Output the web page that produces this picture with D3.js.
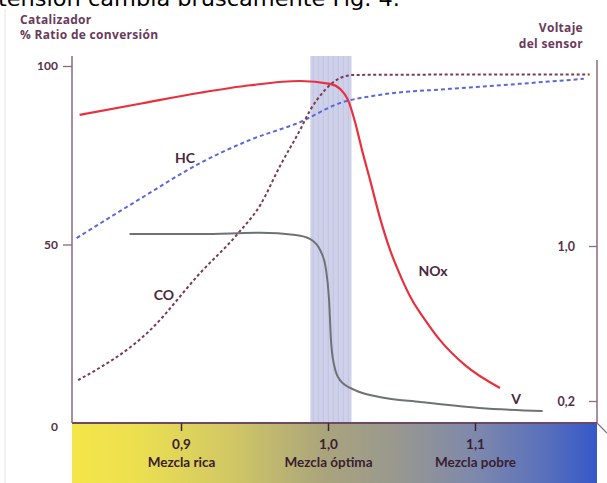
<!DOCTYPE html>
<html><head><meta charset="utf-8">
<script src="https://cdn.jsdelivr.net/npm/d3@7"></script>
<style>html,body{margin:0;padding:0;background:#fff;overflow:hidden}</style>
</head><body>
<script>
// ---- data ----
const xTicks = [0.9, 1.0, 1.1];
const xTickLabels = ["0,9", "1,0", "1,1"];
const xTickNames = ["Mezcla rica", "Mezcla óptima", "Mezcla pobre"];
const leftTicks = [0, 50, 100];
const rightTicks = [0.2, 1.0];
const rightTickLabels = ["0,2", "1,0"];
const band = [0.988, 1.016];

const noxX = [0.831, 0.873, 0.913, 0.947, 0.981, 1.0014, 1.0082, 1.0136, 1.0184, 1.0231, 1.0286, 1.0354, 1.0422, 1.049, 1.0571, 1.066, 1.0762, 1.0932, 1.117];
const noxY = [86.3, 89.5, 92.5, 94.6, 95.8, 95.0, 93.6, 90.5, 84.3, 76.5, 68.1, 57.4, 48.5, 41.5, 34.5, 28.9, 23.2, 16.2, 9.8];

const hcX = [0.829, 0.871, 0.913, 0.947, 0.981, 1.008, 1.035, 1.083, 1.130, 1.174];
const hcY = [51.8, 62.5, 72.8, 79.3, 84.3, 89.6, 91.9, 93.6, 95.0, 96.4];

const coX = [0.830, 0.879, 0.913, 0.939, 0.954, 0.967, 0.981, 0.988, 0.998, 1.008, 1.018, 1.100, 1.178];
const coY = [12.0, 26.0, 42.0, 53.2, 61.1, 71.7, 82.1, 87.7, 93.3, 96.6, 97.5, 97.6, 97.6];

const vX = [0.865, 0.913, 0.954, 0.978, 0.988, 0.995, 0.9986, 1.0007, 1.002, 1.0041, 1.008, 1.018, 1.035, 1.063, 1.103, 1.146];
const vY = [1.062, 1.062, 1.068, 1.057, 1.036, 0.974, 0.881, 0.725, 0.517, 0.387, 0.309, 0.257, 0.221, 0.195, 0.164, 0.148];

// ---- setup ----
const W = 607, H = 483;
const svg = d3.select("body").append("svg").attr("width", W).attr("height", H)
  .style("font-family", "Lato, 'Open Sans', sans-serif");

const x = d3.scaleLinear().domain([0.9, 1.1]).range([181, 475]);
const yL = d3.scaleLinear().domain([0, 100]).range([423, 66]);
const yR = d3.scaleLinear().domain([0.2, 1.0]).range([401, 246]);
const X0 = 72, X1 = 597, YB = 423, YT = 56;

const textCol = "#55304a";
const axisCol = "#8a6a82";
const FONT = "Lato, sans-serif";

// cut-off header text
svg.append("text").attr("x", -2).attr("y", 6).attr("font-family", "'DejaVu Sans', sans-serif")
  .attr("font-size", 21).attr("fill", "#000").attr("textLength", 402).attr("lengthAdjust", "spacingAndGlyphs")
  .text("tensión cambia bruscamente Fig. 4.");
svg.append("line").attr("x1", 5).attr("x2", 5).attr("y1", 9).attr("y2", H).attr("stroke", "#e4e4e4").attr("stroke-width", 1);

// gradient
const defs = svg.append("defs");
const g = defs.append("linearGradient").attr("id", "grad").attr("x1", "0%").attr("x2", "100%");
[[0, "#f4e648"], [0.12, "#ece050"], [0.3, "#d2c864"], [0.48, "#aaa47c"], [0.62, "#989890"], [0.77, "#7d88ac"], [0.9, "#5a70bc"], [1, "#3458c8"]]
  .forEach(([o, c]) => g.append("stop").attr("offset", o).attr("stop-color", c));
svg.append("rect").attr("x", X0).attr("y", YB).attr("width", X1 - X0).attr("height", H - YB).attr("fill", "url(#grad)");

// shaded band with stripes
const bx0 = x(band[0]), bx1 = x(band[1]);
svg.append("rect").attr("x", bx0).attr("y", YT).attr("width", bx1 - bx0).attr("height", YB - YT).attr("fill", "#ced1e9");
d3.range(bx0 + 3, bx1, 5).forEach(sx => {
  svg.append("line").attr("x1", sx).attr("x2", sx).attr("y1", YT).attr("y2", YB)
    .attr("stroke", "#c3c7e2").attr("stroke-width", 1.2);
});

// axes frame
svg.append("line").attr("x1", X0).attr("x2", X0).attr("y1", YT).attr("y2", YB).attr("stroke", axisCol).attr("stroke-width", 1.5);
svg.append("line").attr("x1", X1).attr("x2", X1).attr("y1", 60).attr("y2", YB).attr("stroke", axisCol).attr("stroke-width", 1.5);
svg.append("line").attr("x1", X0).attr("x2", X1).attr("y1", YB).attr("y2", YB).attr("stroke", "#6a4a68").attr("stroke-width", 2);
svg.append("line").attr("x1", X1).attr("x2", 607).attr("y1", YB).attr("y2", 433).attr("stroke", axisCol).attr("stroke-width", 1.2);

// left axis
const la = svg.append("g").attr("transform", `translate(${X0},0)`)
  .call(d3.axisLeft(yL).tickValues(leftTicks).tickSize(9).tickPadding(5).tickFormat(d3.format("d")));
la.select(".domain").remove();
la.selectAll(".tick line").attr("stroke", axisCol).attr("stroke-width", 1.3);
la.selectAll(".tick text").attr("fill", textCol).attr("font-size", 12).attr("font-weight", 700).attr("font-family", FONT);
la.selectAll(".tick").filter(d => d === 0).select("line").remove();
la.selectAll(".tick").filter(d => d === 0).select("text").attr("x", -14).attr("dy", "0.65em");

// right axis (ticks to the left)
const ra = svg.append("g").attr("transform", `translate(${X1},0)`)
  .call(d3.axisLeft(yR).tickValues(rightTicks).tickSize(8).tickPadding(14).tickFormat(d => rightTickLabels[rightTicks.indexOf(d)]));
ra.select(".domain").remove();
ra.selectAll(".tick line").attr("stroke", axisCol).attr("stroke-width", 1.3);
ra.selectAll(".tick text").attr("fill", textCol).attr("font-size", 12.5).attr("font-weight", 700).attr("font-family", FONT);

// bottom axis
const ba = svg.append("g").attr("transform", `translate(0,${YB})`)
  .call(d3.axisBottom(x).tickValues(xTicks).tickSize(8).tickFormat((d, i) => xTickLabels[i]));
ba.select(".domain").remove();
ba.selectAll(".tick line").attr("stroke", "#3a2838").attr("stroke-width", 1.5);
ba.selectAll(".tick text").attr("fill", "#3a2030").attr("font-size", 13.5).attr("font-weight", 700).attr("y", 16).attr("font-family", FONT);
ba.selectAll(".tick").append("text").attr("y", 34).attr("dy", "0.71em").attr("fill", "#3a2030").attr("font-size", 13.5)
  .attr("font-weight", 700).attr("font-family", FONT).attr("text-anchor", "middle")
  .text((d, i) => xTickNames[i]);

// lines
const mk = (xs, ys) => xs.map((v, i) => [v, ys[i]]);
const lineL = d3.line().x(d => x(d[0])).y(d => yL(d[1])).curve(d3.curveMonotoneX);
const lineR = d3.line().x(d => x(d[0])).y(d => yR(d[1])).curve(d3.curveMonotoneX);

svg.append("path").attr("d", lineL(mk(hcX, hcY))).attr("fill", "none").attr("stroke", "#5a68d8")
  .attr("stroke-width", 2).attr("stroke-dasharray", "4,3");
svg.append("path").attr("d", lineL(mk(coX, coY))).attr("fill", "none").attr("stroke", "#7a3a58")
  .attr("stroke-width", 2).attr("stroke-dasharray", "3,2.5");
svg.append("path").attr("d", lineR(mk(vX, vY))).attr("fill", "none").attr("stroke", "#6e7276")
  .attr("stroke-width", 2);
svg.append("path").attr("d", lineL(mk(noxX, noxY))).attr("fill", "none").attr("stroke", "#e8303e")
  .attr("stroke-width", 2.2);

// series labels
const lab = (t, px, py) => svg.append("text").attr("x", px).attr("y", py).attr("fill", "#4a2840")
  .attr("font-size", 14).attr("font-weight", 700).attr("font-family", FONT).attr("text-anchor", "middle").text(t);
lab("HC", 185, 163);
lab("CO", 164, 300);
lab("NOx", 433, 276);
lab("V", 516, 404);

// titles
const tt = (t, px, py, anchor) => svg.append("text").attr("x", px).attr("y", py).attr("fill", "#6a3a5a")
  .attr("font-size", 12).attr("font-weight", 700).attr("font-family", "'Open Sans', sans-serif")
  .attr("letter-spacing", 0.3).attr("text-anchor", anchor).text(t);
tt("Catalizador", 20, 23.5, "start");
tt("% Ratio de conversión", 20, 39, "start");
tt("Voltaje", 583, 32, "end");
tt("del sensor", 583, 48, "end");
</script>
</body></html>
